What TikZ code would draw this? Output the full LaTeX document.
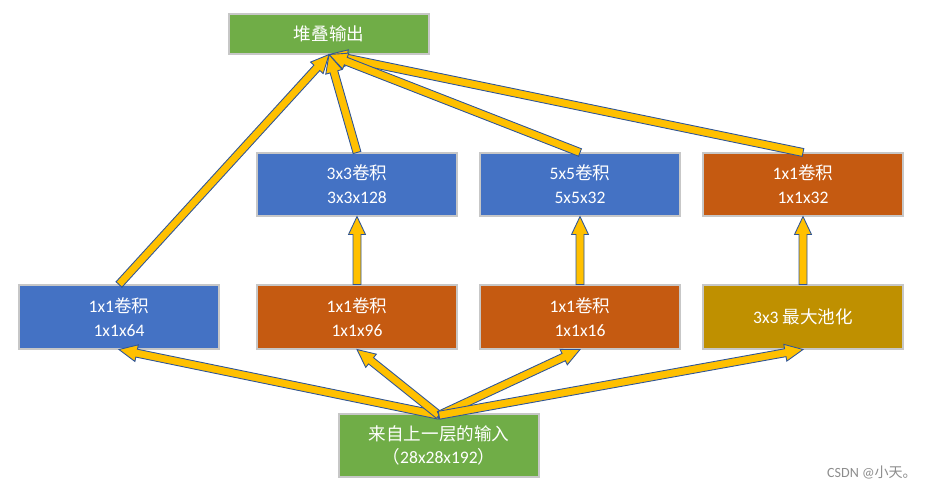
\documentclass[tikz,border=0pt]{standalone}
\usepackage{fontspec}
\setmainfont{Carlito}
\newfontfamily\cjk{Noto Sans CJK SC}
\usetikzlibrary{calc}

\definecolor{convblue}{HTML}{4472C4}
\definecolor{convorange}{HTML}{C55A11}
\definecolor{poolgold}{HTML}{BF9000}
\definecolor{iogreen}{HTML}{70AD47}
\definecolor{arrowyellow}{HTML}{FFC000}
\definecolor{arrowedge}{HTML}{2F5597}

% block arrow from #1 to #2
\newcommand{\blockarrow}[2]{%
\coordinate (bas) at (#1);
\coordinate (bae) at (#2);
\coordinate (ban) at ($(bae)!0.36cm!(bas)$);
\filldraw[fill=arrowyellow,draw=arrowedge,line width=0.5pt,line join=miter]
 ($(bas)!0.08cm!90:(bae)$) -- ($(ban)!0.08cm!90:(bae)$) -- ($(ban)!0.17cm!90:(bae)$)
 -- (bae) -- ($(ban)!0.17cm!-90:(bae)$) -- ($(ban)!0.08cm!-90:(bae)$)
 -- ($(bas)!0.08cm!-90:(bae)$) -- cycle;}

\begin{document}
\begin{tikzpicture}[x=0.02cm,y=-0.02cm]
\tikzstyle{layer}=[rectangle,draw=black!22,line width=0.6pt,text=white,minimum width=4cm,align=center,font=\fontsize{10}{13.5}\selectfont]
\useasboundingbox (0,0) rectangle (927,490);
\node [layer,fill=iogreen,minimum height=0.8cm] (out) at (329,34) {\cjk 堆叠输出};
\node [layer,fill=convblue,minimum height=1.26cm] (conv3) at (357,184.5) {3x3{\cjk 卷积}\\3x3x128};
\node [layer,fill=convblue,minimum height=1.26cm] (conv5) at (580,184.5) {5x5{\cjk 卷积}\\5x5x32};
\node [layer,fill=convorange,minimum height=1.26cm] (proj) at (803,184.5) {1x1{\cjk 卷积}\\1x1x32};
\node [layer,fill=convblue,minimum height=1.28cm] (conv1) at (119,317) {1x1{\cjk 卷积}\\1x1x64};
\node [layer,fill=convorange,minimum height=1.28cm] (red3) at (357,317) {1x1{\cjk 卷积}\\1x1x96};
\node [layer,fill=convorange,minimum height=1.28cm] (red5) at (580,317) {1x1{\cjk 卷积}\\1x1x16};
\node [layer,fill=poolgold,minimum height=1.28cm] (pool) at (803,317) {3x3 {\cjk 最大池化}};
\node [layer,fill=iogreen,minimum height=1.26cm] (in) at (439,445.5) {{\cjk 来自上一层的输入}\\{\cjk （}28x28x192{\cjk ）}};
\node [text=black!45,font=\fontsize{8}{10}\selectfont] (mark) at (872,472) {CSDN @{\cjk 小天。}};
% input to first row
\blockarrow{[yshift=-1pt]in.north}{conv1.south}
\blockarrow{[yshift=-1pt]in.north}{red3.south}
\blockarrow{[yshift=-1pt]in.north}{red5.south}
\blockarrow{[yshift=-1pt]in.north}{pool.south}
% first row to second row
\blockarrow{red3.north}{conv3.south}
\blockarrow{red5.north}{conv5.south}
\blockarrow{pool.north}{proj.south}
% to output
\blockarrow{proj.north}{out.south}
\blockarrow{conv5.north}{out.south}
\blockarrow{conv1.north}{out.south}
\blockarrow{conv3.north}{out.south}
\end{tikzpicture}
\end{document}
